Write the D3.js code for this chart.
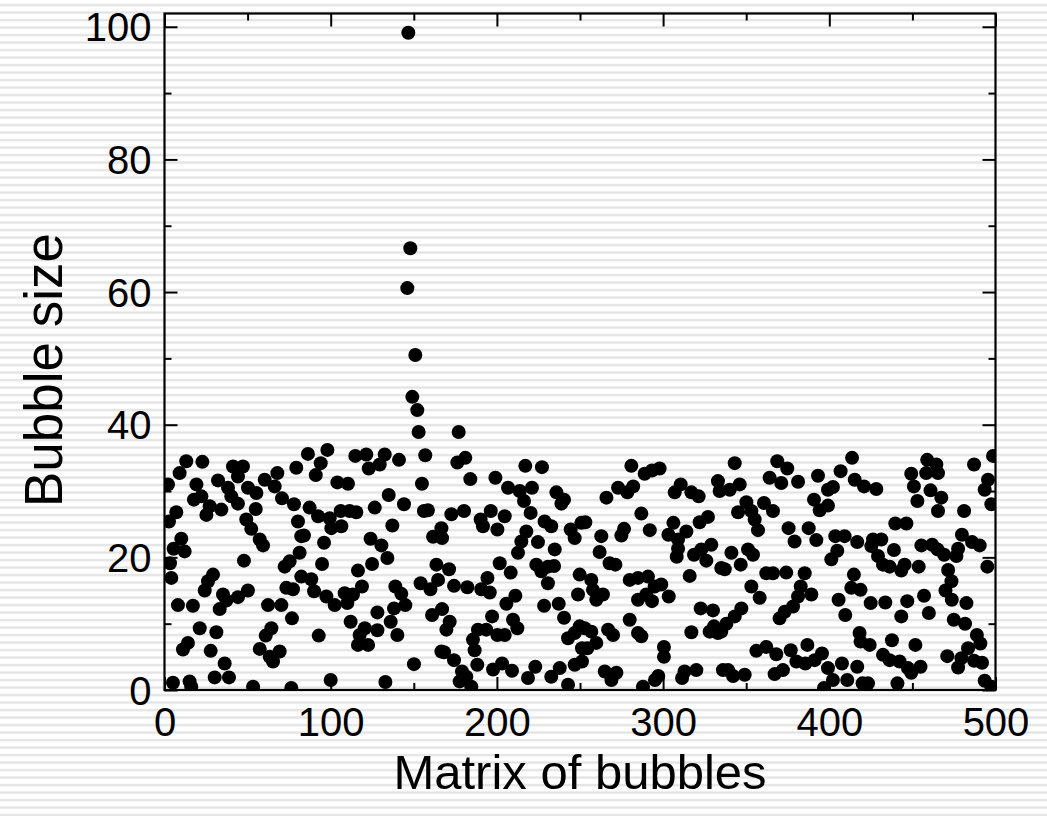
<!DOCTYPE html>
<html>
<head>
<meta charset="utf-8">
<script src="https://cdn.jsdelivr.net/npm/d3@7"></script>
<style>
  html, body { margin: 0; padding: 0; background: #fff; }
  svg { display: block; }
</style>
</head>
<body>
<svg id="chart" width="1047" height="816"></svg>
<script>
// ---- data ----
const xValues = [
  13.1,22.8,9.1,2.1,19.2,32.2,41.2,47.2,44.2,38.2,50.2,55.3,60.3,67.9,66.3,70.7,79.3,17.7,22.2,27.2,
  25.2,34.2,40.2,44.2,7.1,2.7,49.2,52.2,54.9,77.9,80.3,82.3,10.1,5.5,12.1,57.3,59.3,3.3,4.1,47.8,
  72.3,75.3,81.3,82.3,29.2,26.2,24.2,35.2,37.2,33.2,44.2,50.2,8.1,17.1,62.3,70.3,73.3,77.3,76.7,21.2,
  31.2,14.1,11.1,27.8,64.3,60.9,57.3,63.3,65.3,69.3,36.2,30.2,38.8,5.1,15.1,16.1,53.3,76.3,
  146.7,147.9,146.1,
  150.9,149.1,152.1,152.9,156.9,154.9,156.1,158.5,86.3,98.0,94.0,91.0,104.0,110.4,114.8,121.4,122.9,129.5,
  132.5,141.1,134.9,126.5,144.1,137.1,87.3,92.4,99.4,100.4,106.4,106.0,111.4,115.4,83.9,96.0,94.8,88.3,
  90.0,97.4,102.4,108.4,110.0,113.4,118.8,116.4,124.0,130.5,134.1,124.9,138.9,142.5,144.9,138.1,136.1,128.1,
  128.1,120.5,117.4,116.4,122.5,112.0,140.1,92.8,150.1,100.0,132.9,154.1,160.0,161.6,163.6,161.0,166.6,164.6,166.6,
  177.0,176.2,181.0,184.0,199.1,206.7,213.7,221.1,217.1,227.1,216.3,220.3,235.8,240.4,238.8,172.6,180.2,167.0,190.2,196.3,
  204.7,191.6,200.3,217.7,214.7,212.7,224.7,228.7,232.7,234.8,223.7,226.7,230.7,234.4,230.7,244.4,246.8,250.8,171.2,174.2,
  182.2,194.3,190.6,195.7,201.7,208.3,211.1,205.7,167.0,171.6,169.6,197.1,209.7,212.3,200.3,204.7,188.6,193.6,185.6,186.6,
  228.4,237.2,240.4,242.8,246.8,249.8,248.8,249.8,168.2,174.2,179.0,181.6,177.6,184.6,188.2,197.7,203.1,209.1,218.7,223.1,
  232.7,237.8,242.8,246.8,251.2,251.2,
  280.9,288.9,293.3,297.9,272.9,278.5,282.0,265.9,310.6,307.0,317.0,321.4,333.0,334.0,286.9,253.2,262.8,276.5,274.9,292.0,
  306.2,303.2,309.0,314.0,309.0,308.2,322.0,327.0,323.0,318.6,329.0,326.0,261.8,267.8,271.3,256.8,257.8,259.8,263.8,279.9,
  284.9,290.9,298.9,294.9,284.9,289.9,293.3,303.4,316.0,335.0,322.6,330.0,330.6,328.0,333.0,317.0,279.9,284.9,286.9,266.9,
  269.9,252.8,256.8,254.4,259.8,300.5,300.5,264.9,271.9,268.9,287.9,297.1,295.1,312.9,311.4,320.0,336.0,
  343.1,340.1,346.1,368.7,374.7,364.1,371.1,381.2,393.2,399.2,402.2,390.8,399.2,394.2,406.8,413.7,415.3,350.1,345.1,353.1,
  355.1,360.7,366.1,357.1,375.5,387.6,379.1,392.2,403.6,409.2,416.8,404.8,401.2,341.1,337.1,346.7,351.1,354.1,362.1,366.1,
  374.1,385.2,382.8,389.2,381.2,378.2,373.2,370.1,353.1,358.1,347.1,343.1,338.1,335.0,414.8,413.2,418.8,405.6,409.6,418.2,
  418.8,356.1,362.1,368.1,376.8,386.8,380.2,385.6,391.2,395.6,399.2,402.2,407.6,410.8,416.8,367.1,372.1,339.1,342.1,349.1,
  396.8,420.0,
  420.9,428.3,458.9,464.4,458.3,465.4,449.3,450.9,460.9,467.4,453.0,465.4,481.1,487.1,498.5,495.5,493.5,497.5,439.7,446.4,
  426.3,431.3,425.3,429.3,432.3,436.3,438.9,443.3,445.3,455.4,461.9,465.1,469.1,453.8,471.5,473.5,469.9,477.5,476.5,479.8,
  485.9,490.5,495.1,473.7,482.5,474.9,481.7,488.8,490.9,483.5,479.5,477.5,471.0,487.1,491.9,493.5,497.5,424.9,433.7,446.9,
  443.3,457.0,459.9,424.3,437.7,451.8,432.3,436.3,442.3,447.3,449.3,454.9,423.3,441.0
];
const yValues = [
  34.5,34.4,32.7,31.0,31.0,31.6,33.7,33.7,32.2,30.5,30.5,29.7,31.7,32.7,30.7,28.9,33.5,28.7,29.2,27.7,
  26.4,27.2,29.2,28.1,26.8,25.4,25.7,24.3,27.3,28.0,25.4,23.2,22.8,21.3,20.9,22.7,21.8,19.1,16.9,19.5,
  18.6,19.4,20.7,17.1,17.4,16.4,15.0,14.4,13.5,12.2,14.0,15.0,12.8,12.7,12.8,12.8,15.4,15.2,10.8,9.3,
  8.7,7.1,6.1,5.9,9.3,8.2,6.2,5.0,4.3,5.8,4.0,1.9,1.9,1.1,1.3,0.5,0.5,0.3,
  99.1,66.6,60.6,
  50.5,44.2,42.2,38.9,35.4,31.1,27.0,27.1,35.6,36.2,34.2,32.4,31.3,31.1,35.3,35.5,33.4,34.0,
  35.5,34.7,29.4,27.5,28.0,24.8,27.5,26.2,25.9,24.4,24.7,27.0,27.0,26.8,23.3,22.2,19.0,16.7,
  14.9,14.1,12.8,14.6,13.1,14.4,15.6,18.0,22.8,21.8,19.9,19.0,15.6,14.5,12.8,12.3,10.3,11.7,
  9.0,9.3,8.3,6.8,6.8,10.3,8.3,8.2,3.9,1.5,1.2,16.1,15.2,23.1,18.9,11.3,24.4,16.6,5.8,
  38.9,34.3,35.0,31.8,32.0,30.5,30.0,30.5,33.8,33.6,28.5,26.7,29.8,28.7,28.1,26.5,27.0,22.9,25.7,27.0,
  26.2,24.7,24.2,23.9,22.4,20.7,22.3,25.4,24.7,21.2,18.9,17.9,18.6,18.7,16.1,24.2,22.9,25.2,18.2,15.7,
  15.5,16.9,15.2,14.7,19.1,17.7,14.2,13.0,12.2,10.3,9.1,11.1,10.6,9.3,8.3,8.3,9.1,9.1,7.6,6.0,
  12.7,13.0,10.9,7.8,8.6,9.6,14.4,17.4,5.7,4.5,2.8,2.0,1.3,0.5,3.8,3.1,4.0,2.9,1.8,3.5,
  2.0,3.3,0.8,3.8,4.3,6.3,
  33.8,32.6,33.1,33.4,30.5,29.8,30.7,29.0,31.0,29.8,29.8,29.2,31.5,30.0,26.6,25.3,23.2,24.3,23.3,24.1,
  25.2,23.4,22.7,23.9,21.3,20.1,25.3,26.1,21.2,20.4,21.9,19.5,20.8,19.1,18.9,16.6,15.1,13.6,14.4,16.6,
  16.9,17.1,15.9,15.6,13.6,14.4,13.4,14.1,17.2,18.4,12.3,12.0,9.6,8.8,8.6,8.7,10.6,8.6,8.1,9.1,
  8.3,9.3,8.8,6.3,7.1,6.5,5.0,2.8,2.6,1.5,0.5,2.1,1.5,2.8,1.8,3.0,3.0,
  34.2,30.2,31.0,34.5,33.4,32.0,31.2,31.4,32.3,30.2,30.6,28.7,27.8,27.1,33.0,35.0,31.7,28.3,26.8,27.0,
  25.7,28.2,27.0,24.1,24.4,24.4,22.4,22.6,23.2,23.2,22.3,21.0,19.7,20.7,18.2,18.9,21.2,20.4,17.6,17.6,
  17.7,17.6,15.6,14.4,14.1,12.6,11.8,10.8,15.6,13.9,12.3,11.1,10.0,8.8,17.4,15.4,15.1,13.6,11.3,8.6,
  7.3,5.9,6.5,5.4,6.0,6.8,4.3,4.0,4.5,5.5,3.3,1.5,4.0,1.5,3.5,2.4,3.0,3.0,2.1,2.3,
  0.3,1.0,
  30.7,30.3,34.7,34.0,32.7,32.7,32.6,30.7,30.1,29.0,28.5,27.0,27.0,34.0,35.3,31.7,30.2,28.0,25.1,25.1,
  22.7,22.7,21.7,20.2,18.9,18.6,21.1,18.0,18.9,21.8,21.9,21.2,20.4,18.6,18.1,16.4,15.0,21.3,20.2,23.4,
  22.3,21.8,18.6,13.6,13.1,10.6,10.0,8.3,7.0,6.3,4.8,3.4,5.1,4.4,4.1,1.4,0.5,13.1,13.2,13.4,
  11.1,14.2,11.6,6.8,7.5,6.8,5.3,4.5,4.3,3.3,2.6,3.5,1.0,1.0
];
const xTickLabels = ["0", "100", "200", "300", "400", "500"];
const yTickLabels = ["0", "20", "40", "60", "80", "100"];
const xTitle = "Matrix of bubbles";
const yTitle = "Bubble size";

// ---- layout ----
const W = 1047, H = 816;
const L = 164.5, R = 995.5, T = 13.5, B = 690;
const svg = d3.select("#chart");
const font = "'Liberation Sans', Arial, Helvetica, sans-serif";

// striped background
const defs = svg.append("defs");
const pat = defs.append("pattern").attr("id", "stripes")
  .attr("patternUnits", "userSpaceOnUse").attr("width", 10).attr("height", 7.5)
  .attr("y", 1);
pat.append("rect").attr("width", 10).attr("height", 7.5).attr("fill", "#ffffff");
pat.append("rect").attr("y", 3).attr("width", 10).attr("height", 2.2).attr("fill", "#e2e2e2");
svg.append("rect").attr("width", W).attr("height", H).attr("fill", "url(#stripes)");

defs.append("clipPath").attr("id", "plotclip")
  .append("rect").attr("x", L).attr("y", T).attr("width", R - L).attr("height", B - T);

const x = d3.scaleLinear().domain([0, 500]).range([L, R]);
const y = d3.scaleLinear().domain([0, 102]).range([B, T]);

const points = xValues.map((v, i) => ({ x: v, y: yValues[i] }));

svg.append("g").attr("clip-path", "url(#plotclip)")
  .selectAll("circle").data(points).join("circle")
  .attr("cx", d => x(d.x)).attr("cy", d => y(d.y)).attr("r", 7)
  .attr("fill", "#000");

// axes with inward ticks
const xMajor = xTickLabels.map(Number);
const yMajor = yTickLabels.map(Number);
const xMinor = d3.range(50, 500, 100);
const yMinor = d3.range(10, 101, 20);

function styleAxis(g) {
  g.select(".domain").remove();
  g.selectAll("line").attr("stroke", "#000").attr("stroke-width", 2);
  g.selectAll("text").attr("font-family", font).attr("font-size", 40).attr("fill", "#000");
}

// bottom
const gB = svg.append("g").attr("transform", `translate(0,${B})`)
  .call(d3.axisBottom(x).tickValues(xMajor).tickSize(-13).tickPadding(22).tickFormat((d, i) => xTickLabels[i]));
styleAxis(gB);
gB.selectAll("text").attr("dy", "0.71em").attr("y", 18);
svg.append("g").attr("transform", `translate(0,${B})`)
  .call(d3.axisBottom(x).tickValues(xMinor).tickSize(-7).tickFormat(""))
  .call(styleAxis);
// top
svg.append("g").attr("transform", `translate(0,${T})`)
  .call(d3.axisTop(x).tickValues(xMajor).tickSize(-13).tickFormat(""))
  .call(styleAxis);
svg.append("g").attr("transform", `translate(0,${T})`)
  .call(d3.axisTop(x).tickValues(xMinor).tickSize(-7).tickFormat(""))
  .call(styleAxis);
// left
const gL = svg.append("g").attr("transform", `translate(${L},0)`)
  .call(d3.axisLeft(y).tickValues(yMajor).tickSize(-13).tickPadding(14).tickFormat((d, i) => yTickLabels[i]));
styleAxis(gL);
gL.selectAll("text").attr("x", -13).attr("dy", "0.35em");
svg.append("g").attr("transform", `translate(${L},0)`)
  .call(d3.axisLeft(y).tickValues(yMinor).tickSize(-7).tickFormat(""))
  .call(styleAxis);
// right
svg.append("g").attr("transform", `translate(${R},0)`)
  .call(d3.axisRight(y).tickValues(yMajor).tickSize(-13).tickFormat(""))
  .call(styleAxis);
svg.append("g").attr("transform", `translate(${R},0)`)
  .call(d3.axisRight(y).tickValues(yMinor).tickSize(-7).tickFormat(""))
  .call(styleAxis);

// frame
svg.append("rect").attr("x", L).attr("y", T).attr("width", R - L).attr("height", B - T)
  .attr("fill", "none").attr("stroke", "#000").attr("stroke-width", 2.2);

// titles
svg.append("text").attr("x", (L + R) / 2).attr("y", 789)
  .attr("text-anchor", "middle").attr("font-family", font).attr("font-size", 49)
  .attr("fill", "#000").text(xTitle);
svg.append("text").attr("transform", `translate(62,370) rotate(-90)`)
  .attr("text-anchor", "middle").attr("font-family", font).attr("font-size", 53)
  .attr("fill", "#000").text(yTitle);
</script>
</body>
</html>
